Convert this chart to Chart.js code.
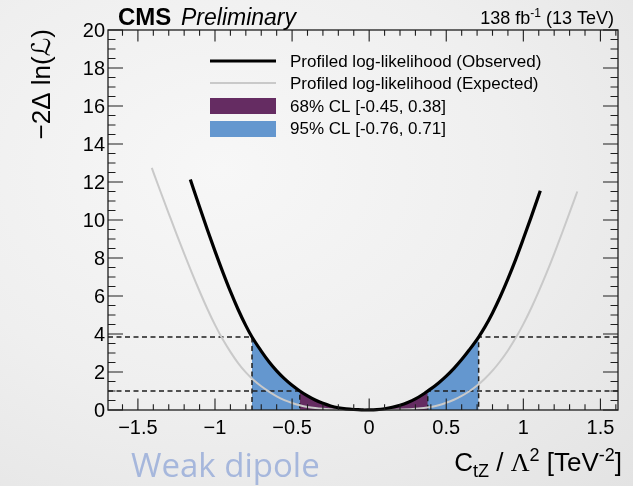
<!DOCTYPE html>
<html><head><meta charset="utf-8">
<script src="https://cdn.jsdelivr.net/npm/chart.js@4.4.1/dist/chart.umd.min.js"></script>
<style>
html,body{margin:0;padding:0;width:633px;height:486px;overflow:hidden;}
body{background: radial-gradient(ellipse at 35% 35%, #f7f7f7 0%, #efefef 50%, #e3e3e3 100%);}
canvas{position:absolute;left:0;top:0;}
</style></head><body>
<canvas id="c" width="633" height="486"></canvas>
<script>
// ---- data ----
const obsX = [-1.16,-1.10,-1.05,-1.00,-0.95,-0.90,-0.85,-0.80,-0.76,-0.70,-0.65,-0.60,-0.55,-0.50,-0.45,-0.40,-0.35,-0.30,-0.25,-0.20,-0.15,-0.10,-0.05,-0.03,0.00,0.05,0.10,0.15,0.20,0.25,0.30,0.35,0.38,0.40,0.45,0.50,0.55,0.60,0.65,0.71,0.75,0.80,0.85,0.90,0.95,1.00,1.05,1.11];
const obsY = [12.13,10.68,9.5,8.36,7.27,6.24,5.29,4.44,3.84,3.1,2.54,2.06,1.65,1.3,1.0,0.74,0.525,0.35,0.215,0.12,0.06,0.025,0.01,0.0,0.003,0.023,0.068,0.143,0.253,0.398,0.583,0.83,1.0,1.11,1.425,1.785,2.195,2.655,3.17,3.84,4.36,5.11,5.96,6.9,7.915,9.01,10.14,11.54];
const expX = [-1.41,-1.35,-1.30,-1.25,-1.20,-1.15,-1.10,-1.05,-1.00,-0.95,-0.90,-0.85,-0.80,-0.75,-0.70,-0.65,-0.60,-0.55,-0.50,-0.45,-0.40,-0.35,-0.30,-0.25,-0.20,-0.10,0.00,0.10,0.20,0.30,0.40,0.45,0.50,0.55,0.60,0.65,0.70,0.75,0.80,0.85,0.90,0.95,1.00,1.05,1.10,1.15,1.20,1.25,1.30,1.35];
const expY = [12.74,11.42,10.34,9.27,8.23,7.22,6.25,5.33,4.48,3.72,3.06,2.47,1.98,1.58,1.25,0.97,0.72,0.52,0.37,0.25,0.16,0.10,0.06,0.035,0.02,0.005,0.0,0.005,0.02,0.06,0.16,0.25,0.38,0.54,0.74,0.985,1.285,1.645,2.07,2.565,3.135,3.785,4.52,5.34,6.24,7.2,8.22,9.29,10.39,11.5];
const cl68 = [-0.45, 0.38];
const cl95 = [-0.76, 0.71];
const levels = [1, 3.84];
const xTickLabels = [-1.5,-1,-0.5,0,0.5,1,1.5];
const yTickLabels = [0,2,4,6,8,10,12,14,16,18,20];
const legendLabels = ['Profiled log-likelihood (Observed)','Profiled log-likelihood (Expected)','68% CL [-0.45, 0.38]','95% CL [-0.76, 0.71]'];

const XMIN = -1.694, XMAX = 1.614, YMIN = 0, YMAX = 20;
const C_PURPLE = '#652c62', C_BLUE = '#6497cf', C_GREY = '#c9c9c9', C_AX = '#1e1e1e';

function pts(xs, ys){ return xs.map((x,i)=>({x, y: ys[i]})); }
function interp(x){
  for (let i=0;i<obsX.length-1;i++){
    if (x>=obsX[i] && x<=obsX[i+1]){
      const t=(x-obsX[i])/(obsX[i+1]-obsX[i]); return obsY[i]+t*(obsY[i+1]-obsY[i]);
    }
  }
  return 0;
}
function band(lo, hi){
  const out=[{x:lo,y:interp(lo)}];
  obsX.forEach((x,i)=>{ if(x>lo && x<hi) out.push({x, y:obsY[i]}); });
  out.push({x:hi,y:interp(hi)});
  return out;
}
const dashStyle = {showLine:true, pointRadius:0, borderColor:C_AX, borderWidth:1.5, borderDash:[5,3.5], fill:false, order:2, clip:false};

function fmt(v){ return (v<0?'\u2212':'') + String(Math.abs(v)); }

const axisPlugin = {
  id:'rootAxes',
  afterDatasetsDraw(chart){
    const ctx = chart.ctx, a = chart.chartArea, xs = chart.scales.x, ys = chart.scales.y;
    ctx.save();
    ctx.strokeStyle = C_AX; ctx.lineWidth = 1.3; ctx.setLineDash([]);
    ctx.strokeRect(a.left, a.top, a.right-a.left, a.bottom-a.top);
    ctx.lineWidth = 1.1;
    ctx.beginPath();
    for (let k=-16;k<=16;k++){
      const v=k/10; if (v<XMIN||v>XMAX) continue;
      const px = xs.getPixelForValue(v);
      const L = (k%5===0)?11.5:5.8;
      ctx.moveTo(px,a.bottom); ctx.lineTo(px,a.bottom-L);
      ctx.moveTo(px,a.top); ctx.lineTo(px,a.top+L);
    }
    for (let k=0;k<=40;k++){
      const v=k/2; const py = ys.getPixelForValue(v);
      const L = (k%4===0)?15:7.5;
      ctx.moveTo(a.left,py); ctx.lineTo(a.left+L,py);
      ctx.moveTo(a.right,py); ctx.lineTo(a.right-L,py);
    }
    ctx.stroke();
    ctx.fillStyle = '#000';
    ctx.font = '20px "Liberation Sans", Arial, sans-serif';
    ctx.textAlign='center'; ctx.textBaseline='alphabetic';
    xTickLabels.forEach(v=>{ ctx.fillText(fmt(v), xs.getPixelForValue(v), 434); });
    ctx.textAlign='right'; ctx.textBaseline='middle';
    yTickLabels.forEach(v=>{ ctx.fillText(String(v), a.left-3, ys.getPixelForValue(v)+1); });
    ctx.restore();
  },
  afterDraw(chart){
    const ctx = chart.ctx;
    ctx.save();
    ctx.fillStyle='#000'; ctx.textBaseline='alphabetic'; ctx.textAlign='left';
    ctx.font = 'bold 24px "Liberation Sans", Arial, sans-serif';
    ctx.fillText('CMS', 118, 25);
    ctx.font = 'italic 23px "Liberation Sans", Arial, sans-serif';
    ctx.fillText('Preliminary', 181, 25);
    drawRich(ctx, [
      {t:'138 fb', f:'18px "Liberation Sans"', dy:0},
      {t:'-1', f:'12px "Liberation Sans"', dy:-7},
      {t:' (13 TeV)', f:'18px "Liberation Sans"', dy:0}
    ], 614, 24, 'right');
    drawRich(ctx, [
      {t:'C', f:'26px "Liberation Sans"', dy:0},
      {t:'tZ', f:'18px "Liberation Sans"', dy:6},
      {t:' / ', f:'26px "Liberation Sans"', dy:0},
      {t:'\u039B', f:'26px "Liberation Serif"', dy:0},
      {t:'2', f:'18px "Liberation Sans"', dy:-10},
      {t:' [TeV', f:'26px "Liberation Sans"', dy:0},
      {t:'-2', f:'18px "Liberation Sans"', dy:-10},
      {t:']', f:'26px "Liberation Sans"', dy:0}
    ], 622, 471, 'right');
    ctx.save();
    ctx.translate(50, 29); ctx.rotate(-Math.PI/2);
    ctx.font = '26px "Liberation Sans", "DejaVu Sans", sans-serif';
    ctx.textAlign='right'; ctx.textBaseline='alphabetic';
    ctx.fillText('\u22122\u0394 ln(\u2112)', 0, 0);
    ctx.restore();
    ctx.font = '17px "Liberation Sans", Arial, sans-serif';
    ctx.textAlign='left'; ctx.textBaseline='middle';
    const rows=[61,83,106,128];
    ctx.lineCap='butt';
    ctx.strokeStyle='#000'; ctx.lineWidth=3;
    ctx.beginPath(); ctx.moveTo(210,rows[0]); ctx.lineTo(276,rows[0]); ctx.stroke();
    ctx.strokeStyle=C_GREY; ctx.lineWidth=2;
    ctx.beginPath(); ctx.moveTo(210,rows[1]); ctx.lineTo(276,rows[1]); ctx.stroke();
    ctx.fillStyle=C_PURPLE; ctx.fillRect(210,98,66,16);
    ctx.fillStyle=C_BLUE; ctx.fillRect(210,121,66,16);
    ctx.fillStyle='#000';
    legendLabels.forEach((t,i)=>ctx.fillText(t, 290, rows[i]+1));
    ctx.font = '33px "Open Sans", sans-serif';
    ctx.fillStyle = '#a6b7dc'; ctx.textBaseline='alphabetic';
    ctx.fillText('Weak dipole', 131, 477);
    ctx.restore();
  }
};
function drawRich(ctx, parts, x, y, align){
  let w=0; parts.forEach(p=>{ ctx.font=p.f; w+=ctx.measureText(p.t).width; });
  let cx = align==='right'? x-w : x;
  ctx.textAlign='left';
  parts.forEach(p=>{ ctx.font=p.f; ctx.fillText(p.t, cx, y+p.dy); cx+=ctx.measureText(p.t).width; });
}

new Chart(document.getElementById('c'), {
  type:'scatter',
  data:{ datasets:[
    {label:'Observed', data:pts(obsX,obsY), showLine:true, pointRadius:0, borderColor:'#000', borderWidth:3.2, cubicInterpolationMode:'monotone', fill:false, order:0, clip:false},
    {label:'Expected', data:pts(expX,expY), showLine:true, pointRadius:0, borderColor:C_GREY, borderWidth:2, cubicInterpolationMode:'monotone', fill:false, order:1, clip:false},
    Object.assign({label:'d1', data:[{x:XMIN,y:levels[1]},{x:cl95[0],y:levels[1]},{x:cl95[0],y:0}]}, dashStyle),
    Object.assign({label:'d2', data:[{x:XMAX,y:levels[1]},{x:cl95[1],y:levels[1]},{x:cl95[1],y:0}]}, dashStyle),
    Object.assign({label:'d3', data:[{x:XMIN,y:levels[0]},{x:cl68[0],y:levels[0]},{x:cl68[0],y:0}]}, dashStyle),
    Object.assign({label:'d4', data:[{x:XMAX,y:levels[0]},{x:cl68[1],y:levels[0]},{x:cl68[1],y:0}]}, dashStyle),
    {label:'68', data:band(cl68[0],cl68[1]), showLine:true, pointRadius:0, borderWidth:0, borderColor:'rgba(0,0,0,0)', backgroundColor:C_PURPLE, fill:'origin', order:3, cubicInterpolationMode:'monotone'},
    {label:'95', data:band(cl95[0],cl95[1]), showLine:true, pointRadius:0, borderWidth:0, borderColor:'rgba(0,0,0,0)', backgroundColor:C_BLUE, fill:'origin', order:4, cubicInterpolationMode:'monotone'}
  ]},
  options:{
    responsive:false, animation:false, devicePixelRatio:1,
    layout:{padding:{left:108, top:30, right:15, bottom:76}},
    plugins:{legend:{display:false}, tooltip:{enabled:false}, title:{display:false}},
    scales:{
      x:{type:'linear', min:XMIN, max:XMAX, display:false},
      y:{type:'linear', min:YMIN, max:YMAX, display:false}
    }
  },
  plugins:[axisPlugin]
});
</script>
</body></html>
